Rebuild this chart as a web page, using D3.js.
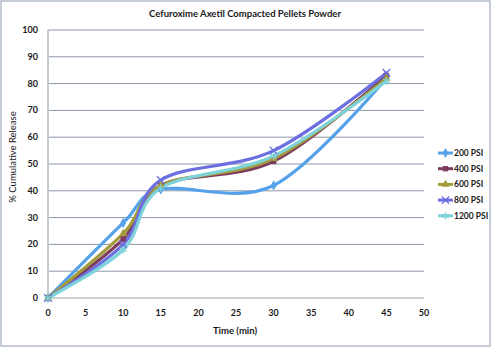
<!DOCTYPE html>
<html lang="en">
<head>
    <title>Cefuroxime Axetil Compacted Pellets Powder</title>
    <script src="https://d3js.org/d3.v7.min.js"></script>
    <style>
        body { margin: 0; background: #fff; }
        text { font-family: Lato, "Open Sans", sans-serif; fill: #1a1a1a; }
    </style>
</head>
<body>
<script>

// time points (min) and % cumulative release per series
var times    = [0, 10, 15, 30, 45];
var psi200   = [0, 28, 40.5, 42, 82];
var psi400   = [0, 22, 42, 51, 83];
var psi600   = [0, 24, 42, 52, 82];
var psi800   = [0, 20, 44, 55, 84];
var psi1200  = [0, 18, 41, 53, 81];
var names    = ["200 PSI", "400 PSI", "600 PSI", "800 PSI", "1200 PSI"];
var xTicks   = [0, 5, 10, 15, 20, 25, 30, 35, 40, 45, 50];
var yTicks   = [0, 10, 20, 30, 40, 50, 60, 70, 80, 90, 100];

var allSeries = [psi200, psi400, psi600, psi800, psi1200];
var colors  = ["#55a2ea", "#7d3b5e", "#a39b3c", "#6b6fe0", "#7ed2da"];
var symbols = [d3.symbolDiamond, d3.symbolSquare, d3.symbolTriangle, d3.symbolX, d3.symbolAsterisk];

const W = 492, H = 348;
const pLeft = 48, pRight = 424, pTop = 30, pBottom = 298;

const svg = d3.select("body").append("svg")
    .attr("width", W).attr("height", H);

// chart border
svg.append("rect")
    .attr("x", 1).attr("y", 1)
    .attr("width", W - 3).attr("height", H - 3)
    .attr("fill", "#fff")
    .attr("stroke", "#b4bcc6").attr("stroke-width", 1.5);

var x = d3.scaleLinear().domain([0, 50]).range([pLeft, pRight]);
var y = d3.scaleLinear().domain([0, 100]).range([pBottom, pTop]);

// gridlines
svg.append("g").selectAll("line")
    .data(yTicks.filter(function(d){ return d > 0; }))
    .enter().append("line")
    .attr("x1", pLeft).attr("x2", pRight)
    .attr("y1", function(d){ return y(d); })
    .attr("y2", function(d){ return y(d); })
    .attr("stroke", "#8c98a6").attr("stroke-width", 1);

// axes lines
svg.append("line")
    .attr("x1", pLeft).attr("x2", pRight)
    .attr("y1", pBottom).attr("y2", pBottom)
    .attr("stroke", "#b8c0c8").attr("stroke-width", 1.5);
svg.append("line")
    .attr("x1", pLeft).attr("x2", pLeft)
    .attr("y1", pTop).attr("y2", pBottom)
    .attr("stroke", "#c4ccd4").attr("stroke-width", 2);

// tick labels
svg.append("g").selectAll("text")
    .data(yTicks).enter().append("text")
    .attr("x", pLeft - 10).attr("y", function(d){ return y(d) + 3; })
    .attr("text-anchor", "end")
    .attr("font-size", 9).attr("font-weight", "bold")
    .text(function(d){ return d; });

svg.append("g").selectAll("text")
    .data(xTicks).enter().append("text")
    .attr("x", function(d){ return x(d); }).attr("y", 316)
    .attr("text-anchor", "middle")
    .attr("font-size", 9).attr("font-weight", "bold")
    .text(function(d){ return d; });

// titles
svg.append("text")
    .attr("x", 245).attr("y", 17)
    .attr("text-anchor", "middle")
    .attr("font-size", 9.5).attr("font-weight", "bold")
    .text("Cefuroxime Axetil Compacted Pellets Powder");

svg.append("text")
    .attr("x", 235).attr("y", 334)
    .attr("text-anchor", "middle")
    .attr("font-size", 9.5).attr("font-weight", "bold")
    .text("Time (min)");

svg.append("text")
    .attr("transform", "translate(16,157) rotate(-90)")
    .attr("text-anchor", "middle")
    .attr("font-size", 9.5)
    .text("% Cumulative Release");

// series
var line = d3.line()
    .x(function(d){ return x(d[0]); })
    .y(function(d){ return y(d[1]); })
    .curve(d3.curveCardinal.tension(0));

allSeries.forEach(function(vals, i) {
    var pts = times.map(function(t, j){ return [t, vals[j]]; });
    svg.append("path")
        .datum(pts)
        .attr("fill", "none")
        .attr("stroke", colors[i])
        .attr("stroke-width", 3.2)
        .attr("stroke-linecap", "round")
        .attr("d", line);
});

allSeries.forEach(function(vals, i) {
    var pts = times.map(function(t, j){ return [t, vals[j]]; });
    var filled = i < 3;
    svg.append("g").selectAll("path")
        .data(pts).enter().append("path")
        .attr("transform", function(d){ return "translate(" + x(d[0]) + "," + y(d[1]) + ")"; })
        .attr("d", d3.symbol().type(symbols[i]).size(filled ? 30 : 40))
        .attr("fill", filled ? colors[i] : "none")
        .attr("stroke", colors[i])
        .attr("stroke-width", filled ? 0 : 1.3);
});

// legend
var legend = svg.append("g").selectAll("g")
    .data(names).enter().append("g")
    .attr("transform", function(d, i){ return "translate(438," + (153 + i * 15.7) + ")"; });

legend.append("line")
    .attr("x1", 0).attr("x2", 15)
    .attr("stroke", function(d, i){ return colors[i]; })
    .attr("stroke-width", 3);

legend.append("path")
    .attr("transform", "translate(7.5,0)")
    .attr("d", function(d, i){ return d3.symbol().type(symbols[i]).size(i < 3 ? 28 : 36)(); })
    .attr("fill", function(d, i){ return i < 3 ? colors[i] : "none"; })
    .attr("stroke", function(d, i){ return colors[i]; })
    .attr("stroke-width", function(d, i){ return i < 3 ? 0 : 1.3; });

legend.append("text")
    .attr("x", 16).attr("y", 3)
    .attr("font-size", 8.5).attr("font-weight", "bold")
    .text(function(d){ return d; });

</script>
</body>
</html>
